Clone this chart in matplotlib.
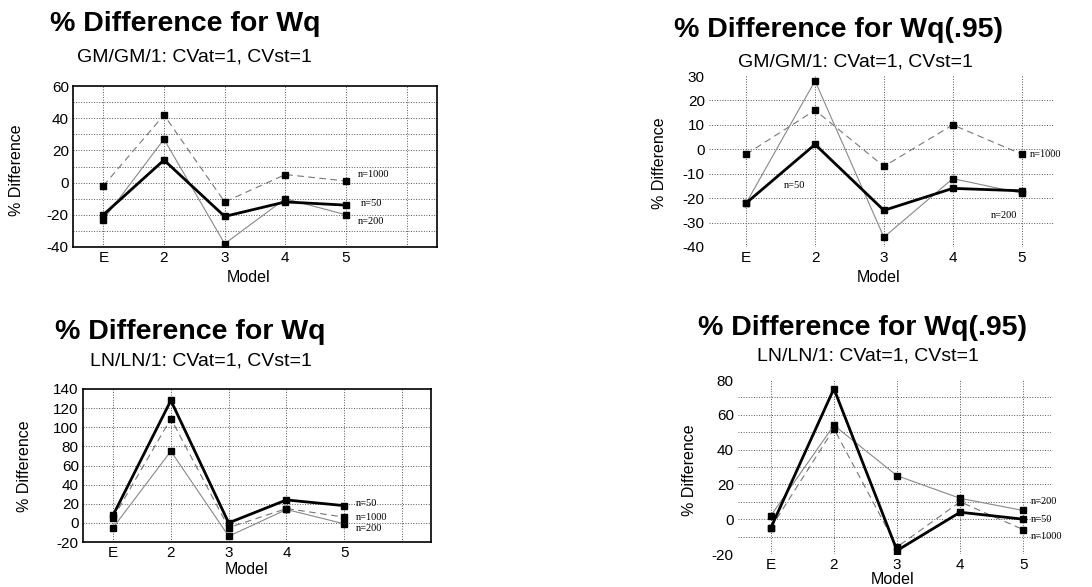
import matplotlib
matplotlib.use("Agg")
import matplotlib.pyplot as plt

plt.rcParams['font.family'] = ['Liberation Sans', 'DejaVu Sans']

W, H = 1092, 587

models = ["E", "2", "3", "4", "5"]

# top left: Wq, GM/GM/1
wq_gm_n50 = [-20, 14, -21, -12, -14]
wq_gm_n200 = [-23, 27, -38, -10, -20]
wq_gm_n1000 = [-2, 42, -12, 5, 1]

# top right: Wq(.95), GM/GM/1
wq95_gm_n50 = [-22, 2, -25, -16, -17]
wq95_gm_n200 = [-22, 28, -36, -12, -18]
wq95_gm_n1000 = [-2, 16, -7, 10, -2]

# bottom left: Wq, LN/LN/1
wq_ln_n50 = [8, 128, 0, 24, 18]
wq_ln_n200 = [-5, 75, -14, 14, -1]
wq_ln_n1000 = [5, 109, -5, 15, 6]

# bottom right: Wq(.95), LN/LN/1
wq95_ln_n50 = [-5, 75, -18, 4, 0]
wq95_ln_n200 = [2, 54, 25, 12, 5]
wq95_ln_n1000 = [-5, 52, -16, 10, -6]


def px_axes(fig, left, top, right, bottom):
    return fig.add_axes([left / W, 1 - bottom / H, (right - left) / W, (bottom - top) / H])


def fx(x):
    return x / W


def fy(y):
    return 1 - y / H


def draw_panel(ax, n50, n200, n1000, ylim, tstep, gstep, xlim, boxed, extra_vline):
    x = list(range(len(models)))
    ax.plot(x, n1000, color="#777777", lw=0.8, ls=(0, (6, 4)), marker="s", ms=5,
            mfc="black", mec="black", zorder=3)
    ax.plot(x, n200, color="#888888", lw=0.8, marker="s", ms=5,
            mfc="black", mec="black", zorder=3)
    ax.plot(x, n50, color="black", lw=2.0, marker="s", ms=5,
            mfc="black", mec="black", zorder=4)
    ax.set_xlim(*xlim)
    ax.set_ylim(*ylim)
    ax.set_xticks(x)
    ax.set_xticklabels(models, fontsize=11)
    yt = list(range(ylim[0], ylim[1] + 1, tstep))
    ax.set_yticks(yt)
    ax.set_yticklabels([str(v) for v in yt], fontsize=11)
    for v in range(ylim[0] + gstep, ylim[1], gstep):
        ax.axhline(v, color="#555555", lw=0.7, ls=":", zorder=1)
    vx = x + ([5] if extra_vline else [])
    for v in vx:
        ax.axvline(v, color="#555555", lw=0.7, ls=":", zorder=1)
    ax.tick_params(length=0, pad=3)
    for s in ax.spines.values():
        s.set_visible(boxed)
        s.set_linewidth(1.2)


fig = plt.figure(figsize=(W / 100, H / 100), dpi=100)
sfont = ['Liberation Serif', 'DejaVu Serif']
TS = 20.5
SS = 14
LS = 11.5

# top left
ax = px_axes(fig, 73, 86, 437, 247)
draw_panel(ax, wq_gm_n50, wq_gm_n200, wq_gm_n1000, (-40, 60), 20, 10, (-0.5, 5.5), True, True)
ax.text(4.2, 2, "n=1000", fontsize=7.5, family=sfont, va="bottom")
ax.text(4.25, -13, "n=50", fontsize=7.5, family=sfont, va="center")
ax.text(4.2, -24, "n=200", fontsize=7.5, family=sfont, va="center")
fig.text(fx(50), fy(24), "% Difference for Wq", fontsize=TS, fontweight="bold", va="center")
fig.text(fx(77), fy(57), "GM/GM/1: CVat=1, CVst=1", fontsize=SS, va="center")
fig.text(fx(17), fy(170), "% Difference", fontsize=LS, rotation=90, ha="center", va="center")
fig.text(fx(249), fy(277), "Model", fontsize=LS, ha="center", va="center")

# top right
ax = px_axes(fig, 709, 76, 1054, 247)
draw_panel(ax, wq95_gm_n50, wq95_gm_n200, wq95_gm_n1000, (-40, 30), 10, 10, (-0.54, 4.47), False, False)
ax.text(0.55, -15, "n=50", fontsize=7.5, family=sfont, va="center")
ax.text(3.55, -27, "n=200", fontsize=7.5, family=sfont, va="center")
ax.text(4.12, -2, "n=1000", fontsize=7.5, family=sfont, va="center")
fig.text(fx(838), fy(30), "% Difference for Wq(.95)", fontsize=TS, fontweight="bold", ha="center", va="center")
fig.text(fx(855), fy(62), "GM/GM/1: CVat=1, CVst=1", fontsize=SS, ha="center", va="center")
fig.text(fx(659), fy(163), "% Difference", fontsize=LS, rotation=90, ha="center", va="center")
fig.text(fx(879), fy(277), "Model", fontsize=LS, ha="center", va="center")

# bottom left
ax = px_axes(fig, 83, 389, 431, 542)
draw_panel(ax, wq_ln_n50, wq_ln_n200, wq_ln_n1000, (-20, 140), 20, 20, (-0.52, 5.5), True, True)
ax.text(4.2, 20, "n=50", fontsize=7.5, family=sfont, va="center")
ax.text(4.2, 6, "n=1000", fontsize=7.5, family=sfont, va="center")
ax.text(4.2, -6, "n=200", fontsize=7.5, family=sfont, va="center")
fig.text(fx(55), fy(332), "% Difference for Wq", fontsize=TS, fontweight="bold", va="center")
fig.text(fx(90), fy(361), "LN/LN/1: CVat=1, CVst=1", fontsize=SS, va="center")
fig.text(fx(25), fy(466), "% Difference", fontsize=LS, rotation=90, ha="center", va="center")
fig.text(fx(247), fy(570), "Model", fontsize=LS, ha="center", va="center")

# bottom right
ax = px_axes(fig, 738, 380, 1051, 554)
draw_panel(ax, wq95_ln_n50, wq95_ln_n200, wq95_ln_n1000, (-20, 80), 20, 10, (-0.52, 4.44), False, False)
ax.text(4.12, 10, "n=200", fontsize=7.5, family=sfont, va="center")
ax.text(4.12, 0, "n=50", fontsize=7.5, family=sfont, va="center")
ax.text(4.12, -10, "n=1000", fontsize=7.5, family=sfont, va="center")
fig.text(fx(862), fy(328), "% Difference for Wq(.95)", fontsize=TS, fontweight="bold", ha="center", va="center")
fig.text(fx(868), fy(356), "LN/LN/1: CVat=1, CVst=1", fontsize=SS, ha="center", va="center")
fig.text(fx(689), fy(470), "% Difference", fontsize=LS, rotation=90, ha="center", va="center")
fig.text(fx(893), fy(580), "Model", fontsize=LS, ha="center", va="center")

fig.savefig("out.png", dpi=100)
